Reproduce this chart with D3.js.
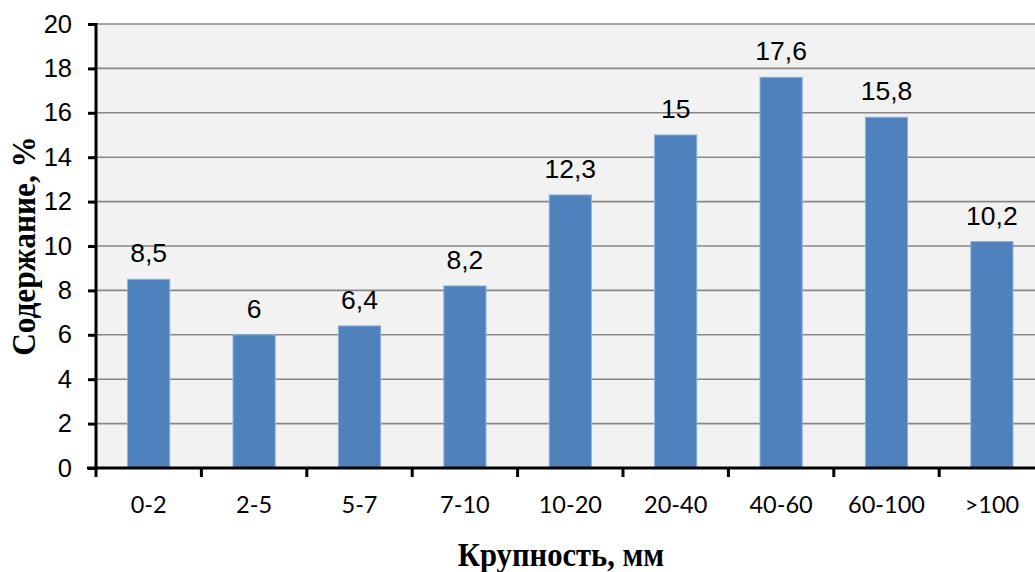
<!DOCTYPE html>
<html><head><meta charset="utf-8">
<script src="https://cdn.jsdelivr.net/npm/d3@7"></script>
<style>html,body{margin:0;padding:0;background:#fff;overflow:hidden}</style>
</head><body>
<svg id="c" width="1035" height="572"></svg>
<script>
const categories = ["0-2","2-5","5-7","7-10","10-20","20-40","40-60","60-100",">100"];
const values = [8.5, 6, 6.4, 8.2, 12.3, 15, 17.6, 15.8, 10.2];
const valueLabels = ["8,5","6","6,4","8,2","12,3","15","17,6","15,8","10,2"];
const yTicks = [0,2,4,6,8,10,12,14,16,18,20];
const xTitle = "Крупность, мм";
const yTitle = "Содержание, %";

const svg = d3.select("#c");
const pLeft = 96, pRight = 1044.6, pTop = 24, pBottom = 468;
const x = d3.scaleBand().domain(categories).range([pLeft, pRight]).paddingInner(0.6).paddingOuter(0.3);
const y = d3.scaleLinear().domain([0, 20]).range([pBottom, pTop]);

svg.append("rect").attr("x", pLeft).attr("y", pTop).attr("width", pRight - pLeft).attr("height", pBottom - pTop).attr("fill", "#f2f2f2");

// gridlines
svg.append("g").selectAll("line").data(yTicks.filter(d => d > 0)).join("line")
  .attr("x1", pLeft).attr("x2", pRight).attr("y1", d => y(d)).attr("y2", d => y(d))
  .attr("stroke", "#878787").attr("stroke-width", 1.6);

// bars
svg.append("g").selectAll("rect").data(values).join("rect")
  .attr("x", (d, i) => x(categories[i])).attr("width", x.bandwidth())
  .attr("y", d => y(d)).attr("height", d => y(0) - y(d))
  .attr("fill", "#4f81bd").attr("stroke", "#8cb0dc").attr("stroke-width", 1);

// data labels
svg.append("g").selectAll("text").data(values).join("text")
  .attr("x", (d, i) => x(categories[i]) + x.bandwidth() / 2)
  .attr("y", d => y(d) - 17)
  .attr("text-anchor", "middle")
  .attr("font-family", "'Liberation Sans', Arial, sans-serif")
  .attr("font-size", 26.5).attr("fill", "#000")
  .text((d, i) => valueLabels[i]);

// y axis
const yAxis = d3.axisLeft(y).tickValues(yTicks).tickSize(8).tickPadding(16).tickFormat(d3.format("d"));
const gy = svg.append("g").attr("transform", `translate(${pLeft},0)`).call(yAxis);
gy.select(".domain").attr("stroke", "#000").attr("stroke-width", 3).attr("d", `M0,${pTop - 1}V${pBottom + 1}`);
gy.selectAll(".tick line").attr("stroke", "#000").attr("stroke-width", 3);
gy.selectAll(".tick text").attr("font-family", "'Liberation Sans Narrow', 'Arial Narrow', sans-serif")
  .attr("font-size", 25.5).attr("fill", "#000");

// x axis with boundary ticks
const gx = svg.append("g").attr("transform", `translate(0,${pBottom})`);
gx.append("line").attr("x1", pLeft - 9).attr("x2", 1035).attr("y1", 0).attr("y2", 0).attr("stroke", "#000").attr("stroke-width", 3);
const bounds = categories.map(c => x(c) - x.step() * x.paddingOuter());
gx.selectAll("line.tk").data(bounds).join("line").attr("class", "tk")
  .attr("x1", d => d).attr("x2", d => d).attr("y1", 0).attr("y2", 9)
  .attr("stroke", "#000").attr("stroke-width", 3);
gx.selectAll("text").data(categories).join("text")
  .attr("x", d => x(d) + x.bandwidth() / 2).attr("y", 45)
  .attr("text-anchor", "middle")
  .attr("font-family", "Lato, 'Open Sans', sans-serif").attr("font-size", 23.5).attr("fill", "#000")
  .text(d => d);

// titles
svg.append("text").attr("transform", "translate(561,566) scale(1.02,1.1)").attr("text-anchor", "middle")
  .attr("font-family", "'Liberation Serif', 'Times New Roman', serif").attr("font-weight", "bold")
  .attr("font-size", 30).attr("fill", "#000").text(xTitle);
svg.append("text").attr("transform", "translate(35,246) rotate(-90) scale(1.01,1.12)").attr("text-anchor", "middle")
  .attr("font-family", "'Liberation Serif', 'Times New Roman', serif").attr("font-weight", "bold")
  .attr("font-size", 31).attr("fill", "#000").text(yTitle);
</script>
</body></html>
